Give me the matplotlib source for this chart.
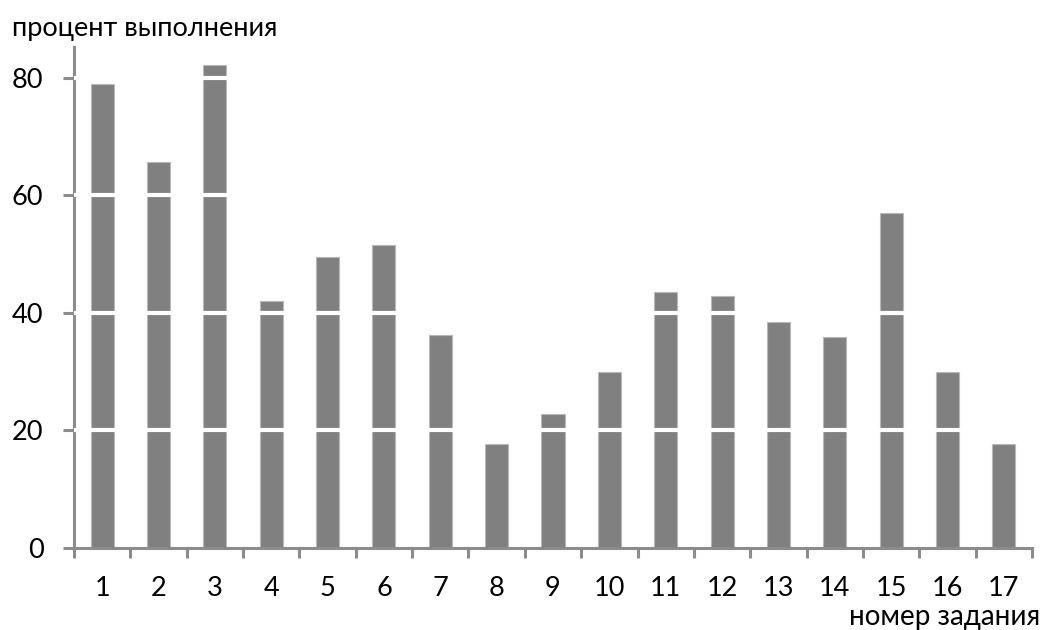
import numpy as np
import matplotlib.pyplot as plt

# данные: номер задания и процент выполнения
tasks = list(range(1, 18))
percent = [78.9, 65.7, 82.2, 42.0, 49.5, 51.5, 36.2, 17.7, 22.8,
           29.9, 43.6, 42.8, 38.5, 35.8, 57.0, 29.9, 17.7]
y_ticks = [0, 20, 40, 60, 80]

plt.rcParams['font.family'] = ['Lato', 'DejaVu Sans']

fig = plt.figure(figsize=(10.43, 6.3), dpi=100)
ax = fig.add_axes([0.0709, 0.1302, 0.9186, 0.7952])

ax.bar(tasks, percent, width=0.41, color='#808080',
       edgecolor='#b8b8b8', linewidth=0.8, zorder=2)

# белые линии сетки поверх столбцов
for v in y_ticks[1:]:
    ax.axhline(v, color='white', linewidth=3.0, zorder=4)

ax.set_xlim(0.5, 17.5)
ax.set_ylim(0, 85.2)

for side in ['top', 'right']:
    ax.spines[side].set_visible(False)
for side in ['left', 'bottom']:
    ax.spines[side].set_color('#8c8c8c')
    ax.spines[side].set_linewidth(2.2)

ax.set_yticks(y_ticks)
ax.tick_params(axis='y', length=8, width=2.2, color='#8c8c8c',
               labelsize=19.5, pad=14)

ax.set_xticks(tasks)
ax.set_xticklabels([str(t) for t in tasks])
ax.set_xticks(np.arange(0.5, 18, 1.0), minor=True)
ax.tick_params(axis='x', which='major', length=0, labelsize=19.5, pad=20)
ax.tick_params(axis='x', which='minor', length=7, width=2.2, color='#8c8c8c')

fig.text(0.0115, 0.943, 'процент выполнения', fontsize=19.5,
         ha='left', va='baseline')
fig.text(0.997, 0.008, 'номер задания', fontsize=20,
         ha='right', va='baseline')

plt.savefig('out.png', dpi=100)
plt.close()
